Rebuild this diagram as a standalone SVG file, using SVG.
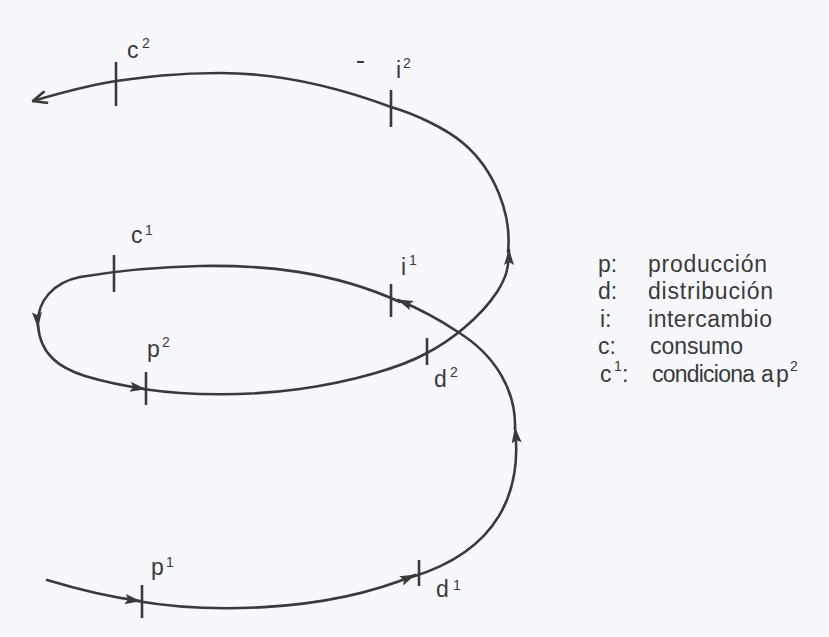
<svg xmlns="http://www.w3.org/2000/svg" width="829" height="637" viewBox="0 0 829 637">
<style>
  .ln{fill:none;stroke:#3a3a3c;stroke-width:2.6;stroke-linecap:round}
  .tk{stroke:#3a3a3c;stroke-width:2.6}
  .t{font-family:"Liberation Sans",Arial,sans-serif;font-size:23px;fill:#3a3a3c}
  .s{font-family:"Liberation Sans",Arial,sans-serif;font-size:14px;fill:#3a3a3c}
</style>
<defs>
  <marker id="ah" viewBox="0 0 16 11" refX="15" refY="5.5" markerWidth="16" markerHeight="11" markerUnits="userSpaceOnUse" orient="auto">
    <path d="M0,0.5 L16,5.5 L0,10.5 L3,5.5 Z" fill="#3a3a3c"/>
  </marker>
  <marker id="ao" viewBox="0 0 16 14" refX="15" refY="7" markerWidth="16" markerHeight="14" markerUnits="userSpaceOnUse" orient="auto">
    <path d="M1,0.8 L15,7 L1,13.2" fill="none" stroke="#3a3a3c" stroke-width="2.6"/>
  </marker>
</defs>
<rect width="829" height="637" fill="#f7f8fb"/>
<g id="connectors">
  <path class="ln" marker-end="url(#ah)" d="M47,580 C80,590 110,597 140,601"/>
  <path class="ln" marker-end="url(#ah)" d="M137,601 C200,612 320,615 415,575"/>
  <path class="ln" marker-end="url(#ah)" d="M412,577 C500,550 522,490 515,428"/>
  <path class="ln" marker-end="url(#ah)" d="M515,428 C516,390 495,355 458,332 C440,320 420,309 398,300"/>
  <path class="ln" marker-end="url(#ah)" d="M400,302 C330,270 260,265 200,266 C150,267 110,272 80,277 C55,282 36,300 38,327"/>
  <path class="ln" marker-end="url(#ah)" d="M38,325 C40,355 60,368 85,376 C105,382 125,386 145,389"/>
  <path class="ln" marker-end="url(#ah)" d="M143,389 C190,396 250,396 300,389 C350,382 400,368 427,353 C450,341 480,318 497,292 C506,278 509,268 509,250"/>
  <path class="ln" marker-end="url(#ao)" d="M508,252 C512,215 495,170 463,143 C445,128 415,114 391,107 C340,88 280,73 220,73 C175,73 145,77 116,81 C85,86 60,93 33,101"/>
</g>
<g id="node-p1">
  <line class="tk" x1="142" y1="585" x2="142" y2="618"/>
  <text class="t" x="151" y="575">p</text><text class="s" x="166" y="567">1</text>
</g>
<g id="node-d1">
  <line class="tk" x1="419" y1="560" x2="419" y2="586"/>
  <text class="t" x="436" y="597">d</text><text class="s" x="453" y="590">1</text>
</g>
<g id="node-i1">
  <line class="tk" x1="391" y1="284" x2="391" y2="317"/>
  <text class="t" x="401" y="275">i</text><text class="s" x="409" y="265">1</text>
</g>
<g id="node-c1">
  <line class="tk" x1="114" y1="255" x2="114" y2="292"/>
  <text class="t" x="131" y="243">c</text><text class="s" x="145" y="235">1</text>
</g>
<g id="node-p2">
  <line class="tk" x1="146" y1="372" x2="146" y2="405"/>
  <text class="t" x="147" y="357">p</text><text class="s" x="162" y="347">2</text>
</g>
<g id="node-d2">
  <line class="tk" x1="427" y1="338" x2="427" y2="365"/>
  <text class="t" x="434" y="387">d</text><text class="s" x="450" y="377">2</text>
</g>
<g id="node-i2">
  <line class="tk" x1="391" y1="90" x2="391" y2="127"/>
  <text class="t" x="396" y="78">i</text><text class="s" x="403" y="68">2</text>
</g>
<g id="node-c2">
  <line class="tk" x1="116" y1="62" x2="116" y2="106"/>
  <text class="t" x="127" y="58">c</text><text class="s" x="142" y="48">2</text>
</g>
<line x1="357" y1="62" x2="364" y2="62" stroke="#3a3a3c" stroke-width="2"/>
<g id="legend">
  <text class="t" x="598" y="272">p:</text>
  <text class="t" x="648" y="272" textLength="119" lengthAdjust="spacing">producción</text>
  <text class="t" x="598" y="299">d:</text>
  <text class="t" x="648" y="299" textLength="125" lengthAdjust="spacing">distribución</text>
  <text class="t" x="600" y="327">i:</text>
  <text class="t" x="648" y="327" textLength="124" lengthAdjust="spacing">intercambio</text>
  <text class="t" x="598" y="354">c:</text>
  <text class="t" x="650" y="354" textLength="93" lengthAdjust="spacing">consumo</text>
  <text class="t" x="600" y="382">c</text><text class="s" x="614" y="371">1</text><text class="t" x="622" y="382">:</text>
  <text class="t" x="652" y="382" textLength="103" lengthAdjust="spacing">condiciona</text>
  <text class="t" x="761" y="382">a</text>
  <text class="t" x="776" y="382">p</text><text class="s" x="790" y="371">2</text>
</g>
</svg>
